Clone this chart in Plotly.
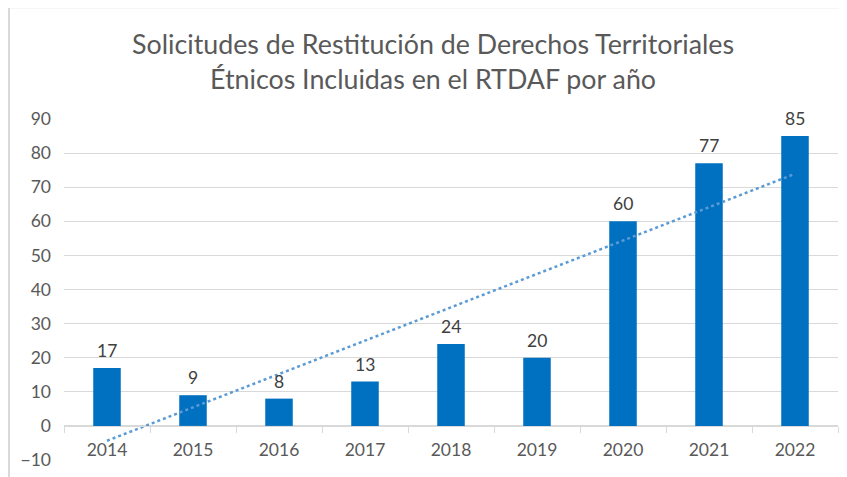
import numpy as np
import plotly.graph_objects as go

years = ["2014", "2015", "2016", "2017", "2018", "2019", "2020", "2021", "2022"]
values = [17, 9, 8, 13, 24, 20, 60, 77, 85]
title_text = "Solicitudes de Restitución de Derechos Territoriales<br>Étnicos Incluidas en el RTDAF por año"

idx = np.arange(1, len(values) + 1)
slope, intercept = np.polyfit(idx, values, 1)
trend = slope * idx + intercept

FONT = "Lato"
fig = go.Figure()
fig.add_trace(go.Bar(
    x=years, y=values, marker=dict(color="#0070C0", line=dict(width=0)),
    showlegend=False,
))
fig.add_trace(go.Scatter(
    x=years, y=trend, mode="lines",
    line=dict(color="#5B9BD5", width=2.5, dash="dot"), showlegend=False,
))

annotations = [
    dict(x=i, y=v, text=str(v), showarrow=False, xref="x", yref="y",
         yanchor="bottom", yshift=5,
         font=dict(family=FONT, size=17.5, color="#404040"))
    for i, v in enumerate(values)
]

fig.update_layout(
    width=839, height=469,
    margin=dict(l=56, r=9, t=111, b=17, autoexpand=False),
    paper_bgcolor="white", plot_bgcolor="white",
    bargap=0.68,
    annotations=annotations,
    title=dict(text=title_text, x=0.5066, xanchor="center", y=0.902, yanchor="top",
               font=dict(family=FONT, size=26.8, color="#595959")),
    xaxis=dict(type="category", categoryorder="array", categoryarray=years,
               anchor="free", position=0.1, automargin=False,
               showline=True, linecolor="#D9D9D9", linewidth=1,
               ticks="outside", tickson="boundaries", ticklen=6, tickcolor="#D9D9D9",
               showgrid=False, ticklabelstandoff=8,
               tickfont=dict(family=FONT, size=17.5, color="#595959")),
    yaxis=dict(range=[-10, 90], dtick=10, showgrid=True, gridcolor="#D9D9D9",
               automargin=False,
               zeroline=False, showline=False, ticks="", ticklabelstandoff=12,
               tickfont=dict(family=FONT, size=17.5, color="#595959")),
    shapes=[dict(type="rect", xref="paper", yref="paper",
                 x0=-0.0711, x1=1.05, y0=-0.3, y1=1.328,
                 line=dict(color="#D9D9D9", width=2), layer="below")],
)
fig.write_html("out.html")
